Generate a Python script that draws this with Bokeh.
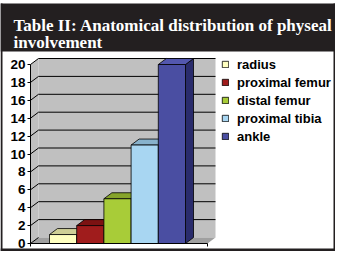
from bokeh.plotting import figure
from bokeh.models import Range1d, LinearAxis, FixedTicker, Legend, LegendItem
from bokeh.core.properties import value
from bokeh.embed import file_html
from bokeh.resources import INLINE

# ---------------- data ----------------
title_lines = ["Table II: Anatomical distribution of physeal", "involvement"]
sites = ["radius", "proximal femur", "distal femur", "proximal tibia", "ankle"]
cases = [1, 2, 5, 11, 20]
y_ticks = [0, 2, 4, 6, 8, 10, 12, 14, 16, 18, 20]
front_colors = ["#FFFFC0", "#A01C1C", "#A8CC38", "#A8D6F2", "#4A4EA2"]
top_colors = ["#CFCF96", "#7C1212", "#86A42A", "#88B2CC", "#5357AE"]
side_colors = ["#B8B888", "#5E0E0E", "#6A8220", "#6A90AA", "#2A2C6C"]

# ---------------- layout (pixels) ----------------
W, H = 335, 251

AXIS_RX = 30          # y axis line
BAR0_RX = 49          # left edge of first bar
BAR_W_RX = 27.2       # bar width
FLOOR_RIGHT_RX = 207  # right end of floor front edge
ZERO_RY = 243
TOP_RY = 64
DEPTH_RX, DEPTH_RY = 8, 6
YMAX = y_ticks[-1]
PPU_RY = (ZERO_RY - TOP_RY) / YMAX


def dx(rx):
    return (rx - BAR0_RX) / BAR_W_RX


def dy(ry):
    return (ZERO_RY - ry) / PPU_RY


xa = dx(AXIS_RX)
xr = dx(FLOOR_RIGHT_RX)
ddx = DEPTH_RX / BAR_W_RX
ddy = DEPTH_RY / PPU_RY

p = figure(width=W, height=H, output_backend="svg", toolbar_location=None,
           x_range=Range1d(dx(0), dx(W)),
           y_range=Range1d(dy(H), dy(0)),
           x_axis_type=None, y_axis_type=None, min_border=0,
           min_border_left=0, min_border_right=0, min_border_top=0, min_border_bottom=0)
p.grid.visible = False
p.outline_line_color = None
p.background_fill_color = "white"
p.border_fill_color = "white"

dark = "#231F20"
# header band, left, right and bottom frame
p.quad(left=[dx(0), dx(0), dx(W - 2), dx(0)],
       right=[dx(W), dx(2), dx(W), dx(W)],
       top=[dy(3), dy(3), dy(3), dy(H - 3)],
       bottom=[dy(51), dy(H), dy(H), dy(H)],
       fill_color=dark, line_color=None)

# title
p.text(x=[dx(13), dx(13)], y=[dy(25), dy(42)], text=title_lines,
       text_font=value("Liberation Serif"), text_font_style="bold",
       text_font_size="17px", text_color="white", text_baseline="alphabetic")

# walls and floor
wall = "#C0C0C0"
p.patch([xa, xa + ddx, xa + ddx, xa], [0, ddy, YMAX + ddy, YMAX],
        fill_color=wall, line_color=None)
p.patch([xa + ddx, xr + ddx, xr + ddx, xa + ddx], [ddy, ddy, YMAX + ddy, YMAX + ddy],
        fill_color=wall, line_color=None)
p.patch([xa, xr, xr + ddx, xa + ddx], [0, 0, ddy, ddy],
        fill_color="#A0A0A0", line_color=None)

# gridlines
gx, gy = [], []
for t in y_ticks[1:]:
    gx.append([xa, xa + ddx, xr + ddx])
    gy.append([t, t + ddy, t + ddy])
p.multi_line(gx, gy, line_color="black", line_width=1)
p.line([xa, xa + ddx], [0, ddy], line_color="black", line_width=1)

# bars (left to right, painter order)
fronts = []
for i, (v, fc, tc, sc) in enumerate(zip(cases, front_colors, top_colors, side_colors)):
    x0, x1 = i, i + 1
    p.patch([x1, x1 + ddx, x1 + ddx, x1], [0, ddy, v + ddy, v],
            fill_color=sc, line_color="black", line_width=0.8)
    p.patch([x0, x0 + ddx, x1 + ddx, x1], [v, v + ddy, v + ddy, v],
            fill_color=tc, line_color="black", line_width=0.8)
    fronts.append(p.vbar(x=[i + 0.5], width=1, bottom=0, top=[v],
                         fill_color=fc, line_color="black", line_width=0.8))

# category axis line with end ticks
p.segment(x0=[xa], y0=[0], x1=[xr], y1=[0], line_color="black", line_width=1)
p.segment(x0=[xa, xr], y0=[0, 0], x1=[xa, xr], y1=[dy(ZERO_RY + 3)] * 2,
          line_color="black", line_width=1)

# value axis
ax = LinearAxis(fixed_location=xa, bounds=(0, YMAX), ticker=FixedTicker(ticks=y_ticks))
ax.major_tick_out = 3
ax.major_tick_in = 0
ax.minor_tick_out = 0
ax.minor_tick_in = 0
ax.axis_line_color = "black"
ax.major_tick_line_color = "black"
ax.major_label_standoff = 2
ax.major_label_text_font = "Liberation Sans"
ax.major_label_text_font_style = "bold"
ax.major_label_text_font_size = "13.5px"
ax.major_label_text_color = "black"
p.add_layout(ax, "left")

# legend
items = [LegendItem(label=s, renderers=[r]) for s, r in zip(sites, fronts)]
item_h, spacing = 16, 2
leg_top = 64 - item_h / 2
leg_h = len(sites) * item_h + (len(sites) - 1) * spacing
legend = Legend(items=items, location=(221, H - leg_top - leg_h),
                glyph_width=8, glyph_height=8, label_height=item_h,
                label_standoff=8, spacing=spacing, padding=0, margin=0,
                border_line_color=None, background_fill_alpha=0,
                label_text_font="Liberation Sans", label_text_font_style="bold",
                label_text_font_size="13px", label_text_color="black")
p.add_layout(legend)

open("out.html", "w").write(file_html(p, INLINE))
